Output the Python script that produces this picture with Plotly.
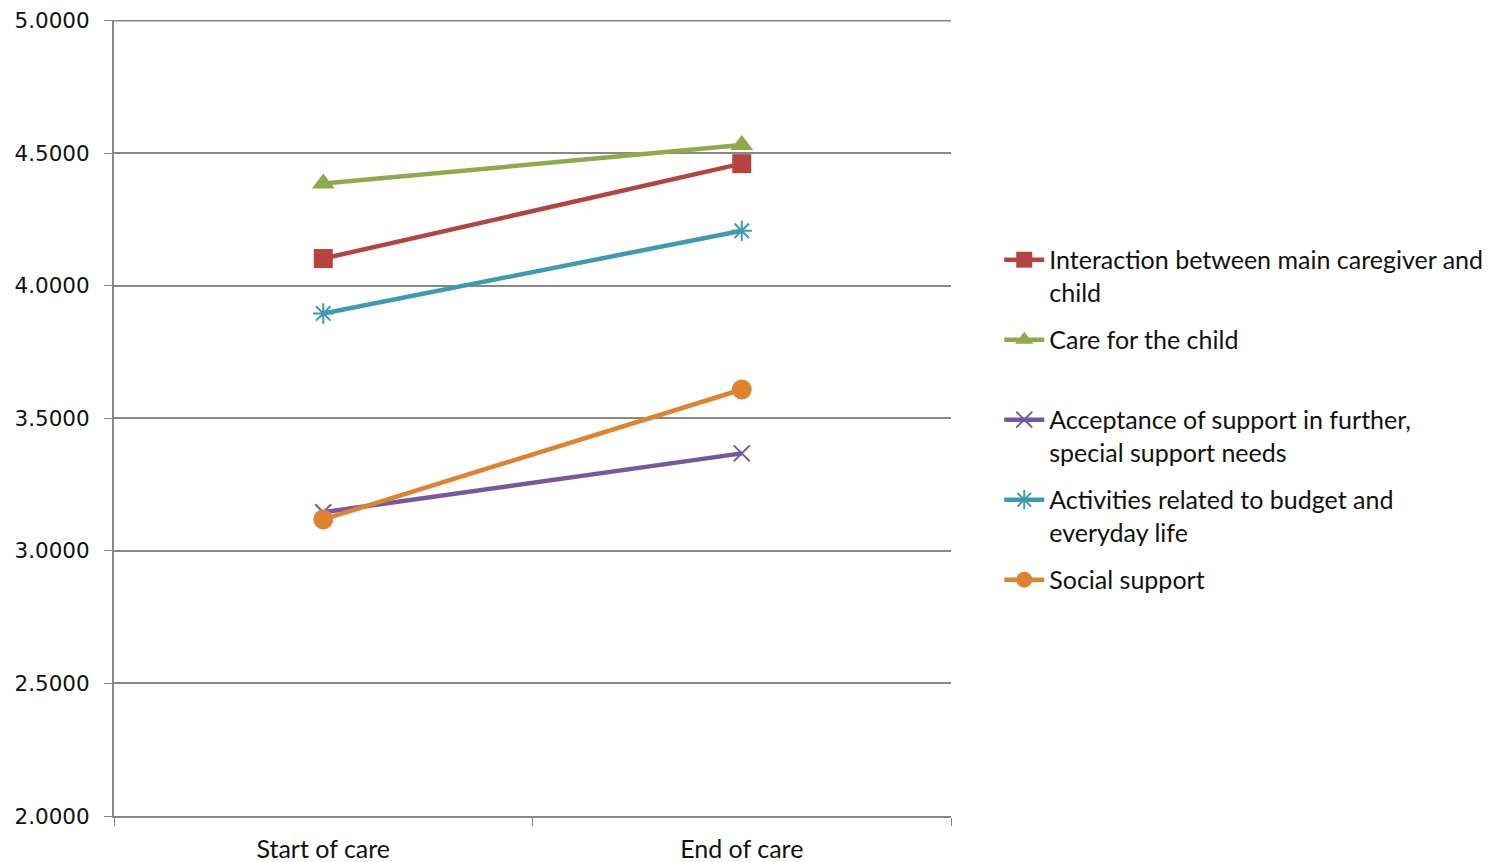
import plotly.graph_objects as go

categories = ["Start of care", "End of care"]
interaction = [4.103, 4.461]
care = [4.386, 4.531]
acceptance = [3.146, 3.368]
activities = [3.896, 4.208]
social = [3.119, 3.609]

series_names = [
    "Interaction between main caregiver and<br>child",
    "Care for the child<br> ",
    "Acceptance of support in further,<br>special support needs",
    "Activities related to budget and<br>everyday life",
    "Social support",
]
y_ticks = [2.0, 2.5, 3.0, 3.5, 4.0, 4.5, 5.0]

fig = go.Figure()
specs = [
    (interaction, series_names[0], "#B5433F", "square", 19, 0),
    (care, series_names[1], "#8DAB4B", "triangle-up", 20, 0),
    (acceptance, series_names[2], "#7458A0", "x-thin", 16, 2),
    (activities, series_names[3], "#3E9BB3", "asterisk", 17, 2),
    (social, series_names[4], "#E0832F", "circle", 20, 0),
]
for i, (vals, name, color, sym, size, mlw) in enumerate(specs):
    fig.add_trace(go.Scatter(
        x=categories, y=vals, name=name, mode="lines+markers",
        legendgroup=f"g{i}",
        line=dict(color=color, width=4.5),
        marker=dict(symbol=sym, size=size, color=color,
                    line=dict(color=color, width=mlw)),
    ))

# top gridline at the axis maximum
fig.add_hline(y=y_ticks[-1], line=dict(color="#888", width=1.5), layer="below")

fig.update_layout(
    width=1491, height=862,
    margin=dict(l=106, r=547, t=12, b=54),
    paper_bgcolor="white", plot_bgcolor="white",
    showlegend=True,
    legend=dict(
        x=1.0564, xanchor="left", y=0.7275, yanchor="top",
        font=dict(family="Lato", size=25, color="#111"),
        valign="top", itemwidth=40, tracegroupgap=12,
        bgcolor="rgba(0,0,0,0)",
    ),
    xaxis=dict(
        type="category", range=[-0.5, 1.5], showgrid=False, automargin=False,
        showline=True, linecolor="#888", linewidth=2,
        ticks="outside", tickson="boundaries", ticklen=8, tickcolor="#888",
        ticklabelstandoff=10,
        tickfont=dict(family="Lato", size=25, color="#111"),
    ),
    yaxis=dict(
        range=[2.0, 5.003], tickvals=y_ticks, tickformat=".4f", automargin=False,
        showgrid=True, gridcolor="#888", gridwidth=1.5,
        showline=True, linecolor="#888", linewidth=2,
        ticks="outside", ticklen=8, tickcolor="#888", ticklabelstandoff=10,
        tickfont=dict(family="DejaVu Sans", size=21.5, color="#111"),
        zeroline=False,
    ),
)

fig.write_html("out.html")
